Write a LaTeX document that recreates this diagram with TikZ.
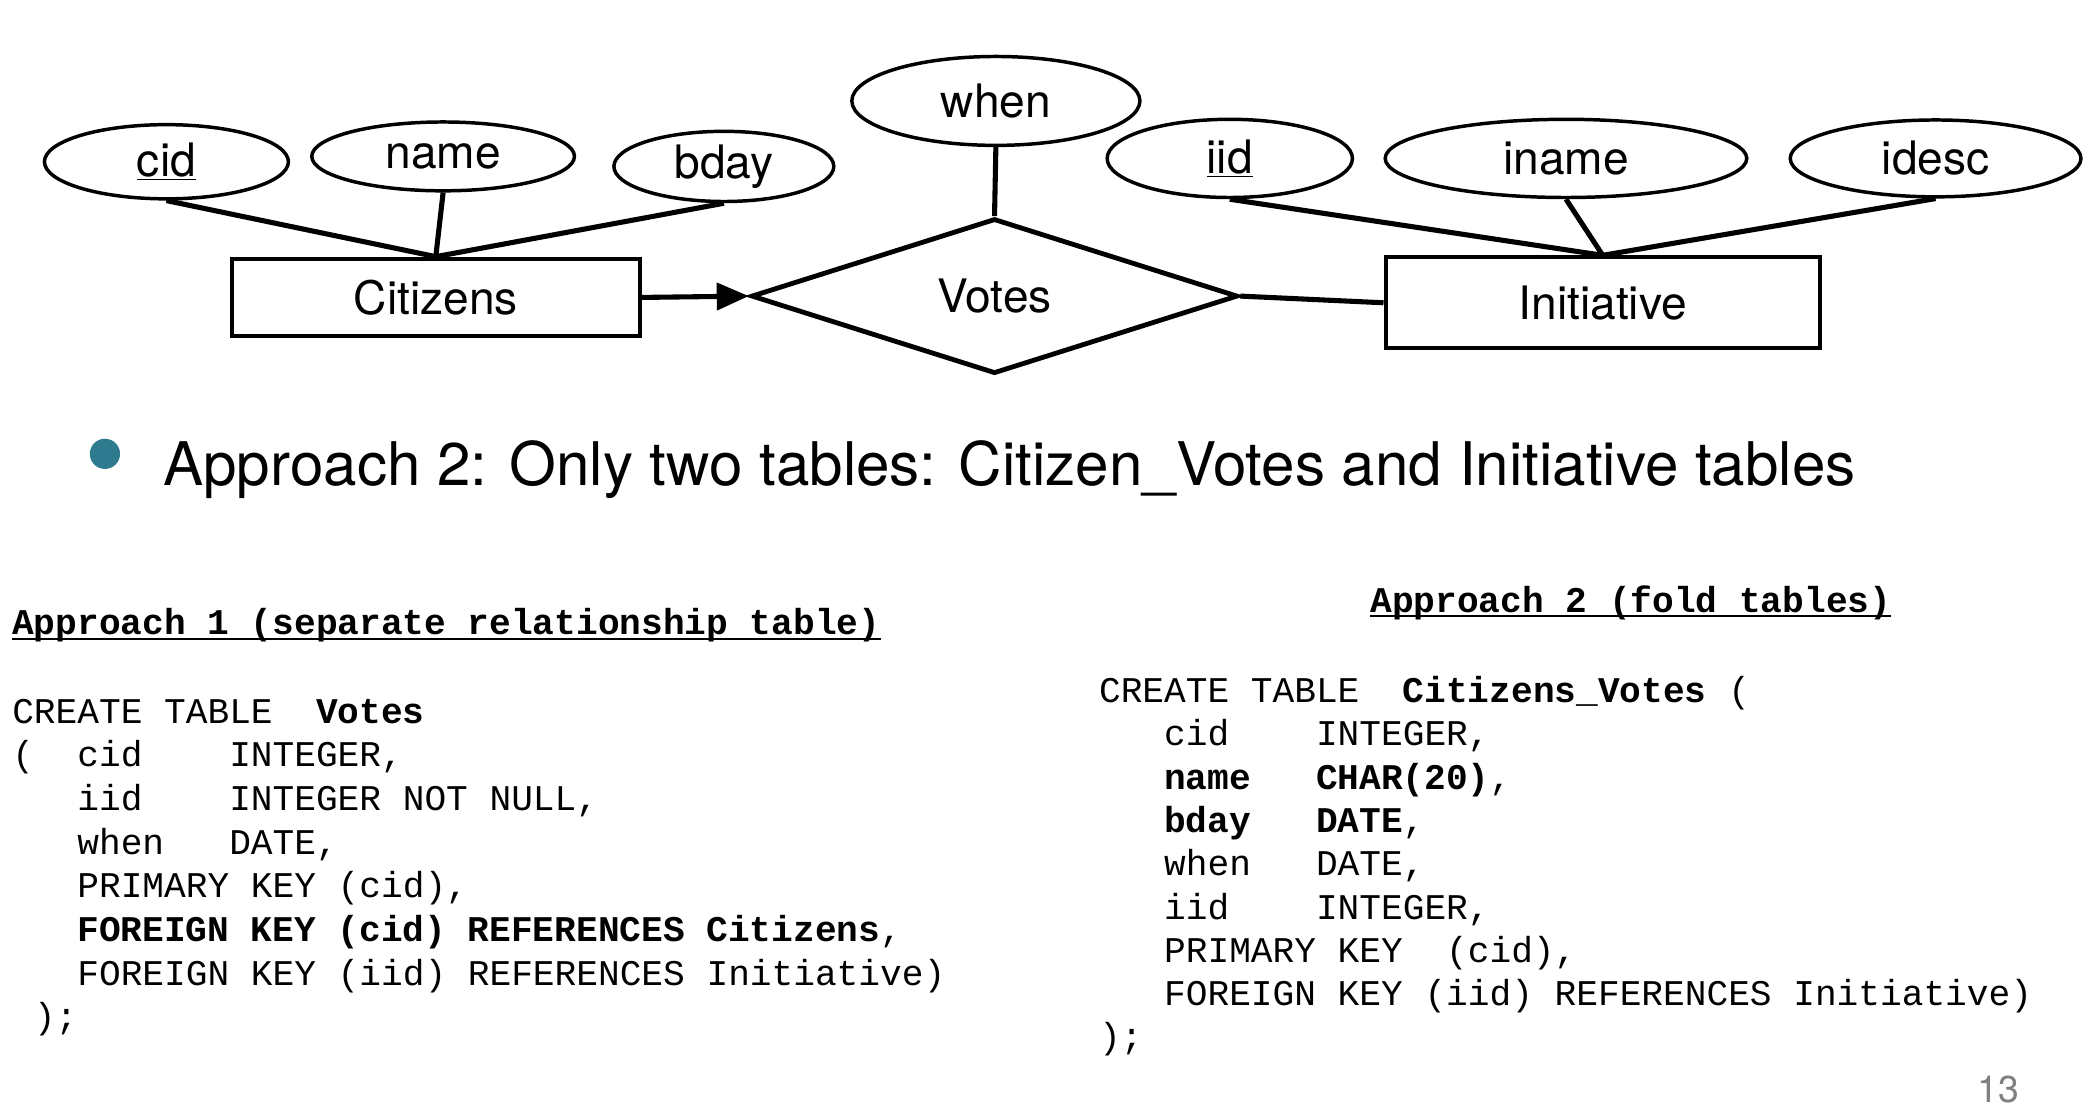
\documentclass[tikz,border=0pt]{standalone}
\usepackage{fontspec}
\setmainfont{TeX Gyre Heros}
\newfontfamily\codefont{Liberation Mono}
\usetikzlibrary{shapes.geometric,arrows.meta}
\definecolor{bulletteal}{HTML}{2E7A8F}
\definecolor{pagegray}{HTML}{808080}
\begin{document}
\begin{tikzpicture}[x=1pt,y=-1pt,
  erfont/.style={font=\fontsize{34.5}{40}\selectfont},
  attr/.style={ellipse,draw,line width=2.6pt,inner sep=0pt,erfont},
  ent/.style={rectangle,draw,line width=3pt,inner sep=0pt,erfont},
  rel/.style={diamond,draw,line width=3.6pt,inner sep=0pt,erfont},
  conn/.style={line width=3.8pt},
  code/.style={anchor=base west,inner sep=0pt,font=\codefont\fontsize{27.05}{32}\selectfont},
  uline/.style={line width=1.6pt}
]
\useasboundingbox (0,0) rectangle (1568,835);

% ER diagram
\node[attr,minimum width=182.5pt,minimum height=55.5pt] (cid) at (124.5,121) {\underline{cid}};
\node[attr,minimum width=196.5pt,minimum height=51.5pt] (name) at (331.5,117) {name};
\node[attr,minimum width=164.5pt,minimum height=52.5pt] (bday) at (541.5,124.5) {bday};
\node[attr,minimum width=215.5pt,minimum height=66.5pt] (when) at (745,75.5) {when};
\node[attr,minimum width=183.5pt,minimum height=58.5pt] (iid) at (920,118.5) {\underline{iid}};
\node[attr,minimum width=270.5pt,minimum height=58.5pt] (iname) at (1171.5,118.5) {iname};
\node[attr,minimum width=217.5pt,minimum height=57.5pt] (idesc) at (1448,118.5) {idesc};

\node[ent,minimum width=305pt,minimum height=58pt] (cit) at (326,222.5) {Citizens};
\node[ent,minimum width=325pt,minimum height=68pt] (ini) at (1199,226.5) {Initiative};
\node[rel,minimum width=364pt,minimum height=116pt,aspect=3.2] (votes) at (744,221.5) {Votes};

\draw[conn] (cid.south) -- (cit.north);
\draw[conn] (name.south) -- (cit.north);
\draw[conn] (bday.south) -- (cit.north);
\draw[conn] (when.south) -- (votes.north);
\draw[conn] (iid.south) -- (ini.north);
\draw[conn] (iname.south) -- (ini.north);
\draw[conn] (idesc.south) -- (ini.north);
\draw[conn,-{Triangle[length=24pt,width=20pt]}] (cit.east) -- (votes.west);
\draw[conn] (votes.east) -- (ini.west);

% bullet line
\node[circle,fill=bulletteal,minimum size=22.6pt,inner sep=0pt] (bullet) at (78.5,339.5) {};
\node[anchor=base west,inner sep=0pt,font=\fontsize{45}{54}\selectfont] (btext) at (122,363) {Approach 2: Only two tables: Citizen\_Votes and Initiative tables};

% left code
\node[code] (h1) at (9,475) {\textbf{Approach~1~(separate~relationship~table)}};
\draw[uline] ([yshift=-3pt]h1.base west) -- ([yshift=-3pt]h1.base east);
\node[code] (a1) at (9,541) {CREATE~TABLE~~\textbf{Votes}};
\node[code] (a2) at (9,573.65) {(~~cid~~~~INTEGER,};
\node[code] (a3) at (9,606.3) {~~~iid~~~~INTEGER~NOT~NULL,};
\node[code] (a4) at (9,638.95) {~~~when~~~DATE,};
\node[code] (a5) at (9,671.6) {~~~PRIMARY~KEY~(cid),};
\node[code] (a6) at (9,704.25) {~~~\textbf{FOREIGN~KEY~(cid)~REFERENCES~Citizens},};
\node[code] (a7) at (9,736.9) {~~~FOREIGN~KEY~(iid)~REFERENCES~Initiative)};
\node[code] (a8) at (9,769.55) {~);};

% right code
\node[code] (h2) at (1025,458) {\textbf{Approach~2~(fold~tables)}};
\draw[uline] ([yshift=-3pt]h2.base west) -- ([yshift=-3pt]h2.base east);
\node[code] (b1) at (822,525.5) {CREATE~TABLE~~\textbf{Citizens\_Votes}~(};
\node[code] (b2) at (822,557.9) {~~~cid~~~~INTEGER,};
\node[code] (b3) at (822,590.3) {~~~\textbf{name~~~CHAR(20)},};
\node[code] (b4) at (822,622.7) {~~~\textbf{bday~~~DATE},};
\node[code] (b5) at (822,655.1) {~~~when~~~DATE,};
\node[code] (b6) at (822,687.5) {~~~iid~~~~INTEGER,};
\node[code] (b7) at (822,719.9) {~~~PRIMARY~KEY~~(cid),};
\node[code] (b8) at (822,752.3) {~~~FOREIGN~KEY~(iid)~REFERENCES~Initiative)};
\node[code] (b9) at (822,784.7) {);};

% page number
\node[anchor=base east,inner sep=0pt,text=pagegray,font=\fontsize{28}{32}\selectfont] (pnum) at (1511,824.5) {13};
\end{tikzpicture}
\end{document}
